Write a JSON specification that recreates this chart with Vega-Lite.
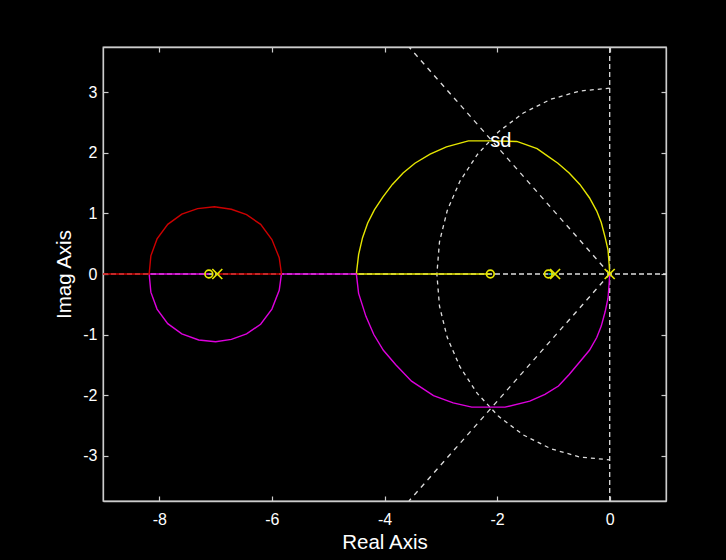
{
  "$schema": "https://vega.github.io/schema/vega-lite/v6.json",
  "width": 563,
  "height": 454,
  "autosize": {"type": "none"},
  "padding": {"left": 103, "top": 47, "right": 60, "bottom": 59},
  "background": "#000000",
  "config": {
    "view": {"stroke": "#cccccc", "strokeWidth": 1.3},
    "font": "Liberation Sans, Arial, sans-serif",
    "axis": {
      "domainColor": "#cccccc",
      "domainWidth": 1.3,
      "tickColor": "#cccccc",
      "tickWidth": 1.2,
      "tickSize": -5,
      "labelColor": "#ffffff",
      "titleColor": "#ffffff",
      "labelFontSize": 16,
      "titleFontSize": 20.5,
      "titleFontWeight": "normal",
      "labelFont": "Liberation Sans, Arial, sans-serif",
      "titleFont": "Liberation Sans, Arial, sans-serif",
      "labelExpr": "replace(datum.label, '\u2212', '-')",
      "grid": false
    }
  },
  "datasets": {
    "grid": [
      {"g": "h", "k": "axis", "i": 0, "x": -9, "y": 0},
      {"g": "h", "k": "axis", "i": 1, "x": 1, "y": 0},
      {"g": "v", "k": "axis", "i": 0, "x": 0, "y": -3.75},
      {"g": "v", "k": "axis", "i": 1, "x": 0, "y": 3.75},
      {"g": "r1", "k": "radial", "i": 0, "x": 0, "y": 0},
      {"g": "r1", "k": "radial", "i": 1, "x": -3.565, "y": 3.75},
      {"g": "r2", "k": "radial", "i": 0, "x": 0, "y": 0},
      {"g": "r2", "k": "radial", "i": 1, "x": -3.565, "y": -3.75},
      {"g": "wn", "k": "wn", "i": 0, "x": 0, "y": 3.07},
      {"g": "wn", "k": "wn", "i": 1, "x": -0.533, "y": 3.023},
      {"g": "wn", "k": "wn", "i": 2, "x": -1.05, "y": 2.885},
      {"g": "wn", "k": "wn", "i": 3, "x": -1.535, "y": 2.659},
      {"g": "wn", "k": "wn", "i": 4, "x": -1.973, "y": 2.352},
      {"g": "wn", "k": "wn", "i": 5, "x": -2.352, "y": 1.973},
      {"g": "wn", "k": "wn", "i": 6, "x": -2.659, "y": 1.535},
      {"g": "wn", "k": "wn", "i": 7, "x": -2.885, "y": 1.05},
      {"g": "wn", "k": "wn", "i": 8, "x": -3.023, "y": 0.533},
      {"g": "wn", "k": "wn", "i": 9, "x": -3.07, "y": 0},
      {"g": "wn", "k": "wn", "i": 10, "x": -3.023, "y": -0.533},
      {"g": "wn", "k": "wn", "i": 11, "x": -2.885, "y": -1.05},
      {"g": "wn", "k": "wn", "i": 12, "x": -2.659, "y": -1.535},
      {"g": "wn", "k": "wn", "i": 13, "x": -2.352, "y": -1.973},
      {"g": "wn", "k": "wn", "i": 14, "x": -1.973, "y": -2.352},
      {"g": "wn", "k": "wn", "i": 15, "x": -1.535, "y": -2.659},
      {"g": "wn", "k": "wn", "i": 16, "x": -1.05, "y": -2.885},
      {"g": "wn", "k": "wn", "i": 17, "x": -0.533, "y": -3.023},
      {"g": "wn", "k": "wn", "i": 18, "x": 0, "y": -3.07}
    ],
    "locus": [
      {"b": "yellow", "i": 0, "x": 0, "y": 0},
      {"b": "yellow", "i": 1, "x": -0.01, "y": 0.16},
      {"b": "yellow", "i": 2, "x": -0.03, "y": 0.4},
      {"b": "yellow", "i": 3, "x": -0.08, "y": 0.6},
      {"b": "yellow", "i": 4, "x": -0.15, "y": 0.85},
      {"b": "yellow", "i": 5, "x": -0.23, "y": 1.04},
      {"b": "yellow", "i": 6, "x": -0.36, "y": 1.26},
      {"b": "yellow", "i": 7, "x": -0.53, "y": 1.48},
      {"b": "yellow", "i": 8, "x": -0.72, "y": 1.67},
      {"b": "yellow", "i": 9, "x": -0.92, "y": 1.83},
      {"b": "yellow", "i": 10, "x": -1.12, "y": 1.96},
      {"b": "yellow", "i": 11, "x": -1.29, "y": 2.07},
      {"b": "yellow", "i": 12, "x": -1.5, "y": 2.14},
      {"b": "yellow", "i": 13, "x": -1.65, "y": 2.19},
      {"b": "yellow", "i": 14, "x": -2.13, "y": 2.2},
      {"b": "yellow", "i": 15, "x": -2.51, "y": 2.2},
      {"b": "yellow", "i": 16, "x": -2.9, "y": 2.1},
      {"b": "yellow", "i": 17, "x": -3.19, "y": 1.98},
      {"b": "yellow", "i": 18, "x": -3.46, "y": 1.83},
      {"b": "yellow", "i": 19, "x": -3.67, "y": 1.67},
      {"b": "yellow", "i": 20, "x": -3.86, "y": 1.48},
      {"b": "yellow", "i": 21, "x": -4.03, "y": 1.27},
      {"b": "yellow", "i": 22, "x": -4.18, "y": 1.06},
      {"b": "yellow", "i": 23, "x": -4.3, "y": 0.84},
      {"b": "yellow", "i": 24, "x": -4.39, "y": 0.6},
      {"b": "yellow", "i": 25, "x": -4.46, "y": 0.32},
      {"b": "yellow", "i": 26, "x": -4.5, "y": 0},
      {"b": "yellow", "i": 27, "x": -2.12, "y": 0},
      {"b": "magenta", "i": 0, "x": 0, "y": 0},
      {"b": "magenta", "i": 1, "x": -0.01, "y": -0.16},
      {"b": "magenta", "i": 2, "x": -0.03, "y": -0.4},
      {"b": "magenta", "i": 3, "x": -0.08, "y": -0.62},
      {"b": "magenta", "i": 4, "x": -0.15, "y": -0.86},
      {"b": "magenta", "i": 5, "x": -0.23, "y": -1.05},
      {"b": "magenta", "i": 6, "x": -0.36, "y": -1.26},
      {"b": "magenta", "i": 7, "x": -0.53, "y": -1.45},
      {"b": "magenta", "i": 8, "x": -0.72, "y": -1.66},
      {"b": "magenta", "i": 9, "x": -0.91, "y": -1.85},
      {"b": "magenta", "i": 10, "x": -1.15, "y": -1.99},
      {"b": "magenta", "i": 11, "x": -1.42, "y": -2.1},
      {"b": "magenta", "i": 12, "x": -1.86, "y": -2.2},
      {"b": "magenta", "i": 13, "x": -2.45, "y": -2.2},
      {"b": "magenta", "i": 14, "x": -2.78, "y": -2.13},
      {"b": "magenta", "i": 15, "x": -3.13, "y": -2.01},
      {"b": "magenta", "i": 16, "x": -3.52, "y": -1.77},
      {"b": "magenta", "i": 17, "x": -3.8, "y": -1.5},
      {"b": "magenta", "i": 18, "x": -4.02, "y": -1.26},
      {"b": "magenta", "i": 19, "x": -4.19, "y": -1.0},
      {"b": "magenta", "i": 20, "x": -4.33, "y": -0.7},
      {"b": "magenta", "i": 21, "x": -4.46, "y": -0.32},
      {"b": "magenta", "i": 22, "x": -4.5, "y": 0},
      {"b": "magenta", "i": 23, "x": -5.83, "y": 0},
      {"b": "magenta", "i": 24, "x": -5.87, "y": -0.27},
      {"b": "magenta", "i": 25, "x": -6.0, "y": -0.58},
      {"b": "magenta", "i": 26, "x": -6.2, "y": -0.83},
      {"b": "magenta", "i": 27, "x": -6.45, "y": -0.99},
      {"b": "magenta", "i": 28, "x": -6.72, "y": -1.08},
      {"b": "magenta", "i": 29, "x": -7.0, "y": -1.12},
      {"b": "magenta", "i": 30, "x": -7.3, "y": -1.09},
      {"b": "magenta", "i": 31, "x": -7.6, "y": -0.99},
      {"b": "magenta", "i": 32, "x": -7.85, "y": -0.82},
      {"b": "magenta", "i": 33, "x": -8.04, "y": -0.58},
      {"b": "magenta", "i": 34, "x": -8.15, "y": -0.3},
      {"b": "magenta", "i": 35, "x": -8.18, "y": 0},
      {"b": "magenta", "i": 36, "x": -7.12, "y": 0},
      {"b": "cyan", "i": 0, "x": -0.97, "y": 0},
      {"b": "cyan", "i": 1, "x": -1.09, "y": 0},
      {"b": "red", "i": 0, "x": -6.97, "y": 0},
      {"b": "red", "i": 1, "x": -5.83, "y": 0},
      {"b": "red", "i": 2, "x": -5.87, "y": 0.27},
      {"b": "red", "i": 3, "x": -6.0, "y": 0.57},
      {"b": "red", "i": 4, "x": -6.2, "y": 0.82},
      {"b": "red", "i": 5, "x": -6.45, "y": 0.98},
      {"b": "red", "i": 6, "x": -6.72, "y": 1.07},
      {"b": "red", "i": 7, "x": -7.02, "y": 1.11},
      {"b": "red", "i": 8, "x": -7.32, "y": 1.08},
      {"b": "red", "i": 9, "x": -7.6, "y": 0.99},
      {"b": "red", "i": 10, "x": -7.85, "y": 0.82},
      {"b": "red", "i": 11, "x": -8.04, "y": 0.58},
      {"b": "red", "i": 12, "x": -8.15, "y": 0.3},
      {"b": "red", "i": 13, "x": -8.18, "y": 0},
      {"b": "red", "i": 14, "x": -9, "y": 0}
    ],
    "roots": [
      {"type": "zero", "x": -7.12, "y": 0},
      {"type": "zero", "x": -2.12, "y": 0},
      {"type": "zero", "x": -1.09, "y": 0},
      {"type": "pole", "x": -6.97, "y": 0},
      {"type": "pole", "x": -0.97, "y": 0},
      {"type": "pole", "x": 0, "y": 0}
    ],
    "labels": [
      {"text": "sd", "x": -2.12, "y": 2.2}
    ]
  },
  "layer": [
    {
      "data": {"name": "grid"},
      "transform": [{"filter": "datum.k === 'axis'"}],
      "mark": {"type": "line", "color": "#dddddd", "strokeWidth": 1.3, "strokeDash": [5, 3], "clip": true},
      "encoding": {
        "x": {"field": "x", "type": "quantitative", "scale": {"domain": [-9, 1], "nice": false, "zero": false},
              "axis": {"orient": "bottom", "values": [-8, -6, -4, -2, 0], "title": "Real Axis", "labelPadding": 15, "titlePadding": 5}},
        "y": {"field": "y", "type": "quantitative", "scale": {"domain": [-3.75, 3.75], "nice": false, "zero": false},
              "axis": {"orient": "left", "values": [-3, -2, -1, 0, 1, 2, 3], "title": "Imag Axis", "labelPadding": 11, "titlePadding": 8}},
        "detail": {"field": "g"},
        "order": {"field": "i", "type": "quantitative"}
      }
    },
    {
      "data": {"name": "grid"},
      "transform": [{"filter": "datum.k === 'radial'"}],
      "mark": {"type": "line", "color": "#dddddd", "strokeWidth": 1.3, "strokeDash": [5, 5], "clip": true},
      "encoding": {
        "x": {"field": "x", "type": "quantitative", "scale": {"domain": [-9, 1], "nice": false, "zero": false},
              "axis": {"orient": "top", "values": [-8, -6, -4, -2, 0], "labels": false, "title": null}},
        "y": {"field": "y", "type": "quantitative", "scale": {"domain": [-3.75, 3.75], "nice": false, "zero": false},
              "axis": {"orient": "right", "values": [-3, -2, -1, 0, 1, 2, 3], "labels": false, "title": null}},
        "detail": {"field": "g"},
        "order": {"field": "i", "type": "quantitative"}
      }
    },
    {
      "data": {"name": "grid"},
      "transform": [{"filter": "datum.k === 'wn'"}],
      "mark": {"type": "line", "color": "#dddddd", "strokeWidth": 1.3, "strokeDash": [4, 4], "clip": true},
      "encoding": {
        "x": {"field": "x", "type": "quantitative", "axis": null},
        "y": {"field": "y", "type": "quantitative", "axis": null},
        "detail": {"field": "g"},
        "order": {"field": "i", "type": "quantitative"}
      }
    },
    {
      "data": {"name": "locus"},
      "mark": {"type": "line", "strokeWidth": 1.4, "clip": true},
      "encoding": {
        "x": {"field": "x", "type": "quantitative", "axis": null},
        "y": {"field": "y", "type": "quantitative", "axis": null},
        "color": {"field": "b", "type": "nominal", "legend": null,
                  "scale": {"domain": ["yellow", "magenta", "cyan", "red"], "range": ["#e6e600", "#dd00dd", "#00dddd", "#cc0000"]}},
        "order": {"field": "i", "type": "quantitative"}
      }
    },
    {
      "data": {"name": "roots"},
      "transform": [{"filter": "datum.type === 'zero'"}],
      "mark": {"type": "point", "shape": "circle", "filled": false, "color": "#e6e600", "strokeWidth": 1.7, "size": 60, "opacity": 1},
      "encoding": {
        "x": {"field": "x", "type": "quantitative", "axis": null},
        "y": {"field": "y", "type": "quantitative", "axis": null}
      }
    },
    {
      "data": {"name": "roots"},
      "transform": [{"filter": "datum.type === 'pole'"}],
      "mark": {"type": "point", "shape": "M-1,-1L1,1M1,-1L-1,1", "filled": false, "color": "#e6e600", "strokeWidth": 1.7, "size": 100, "opacity": 1},
      "encoding": {
        "x": {"field": "x", "type": "quantitative", "axis": null},
        "y": {"field": "y", "type": "quantitative", "axis": null}
      }
    },
    {
      "data": {"name": "labels"},
      "mark": {"type": "text", "align": "left", "baseline": "middle", "color": "#ffffff", "fontSize": 20, "font": "Liberation Sans, Arial, sans-serif"},
      "encoding": {
        "x": {"field": "x", "type": "quantitative", "axis": null},
        "y": {"field": "y", "type": "quantitative", "axis": null},
        "text": {"field": "text"}
      }
    }
  ],
  "resolve": {"axis": {"x": "independent", "y": "independent"}}
}
